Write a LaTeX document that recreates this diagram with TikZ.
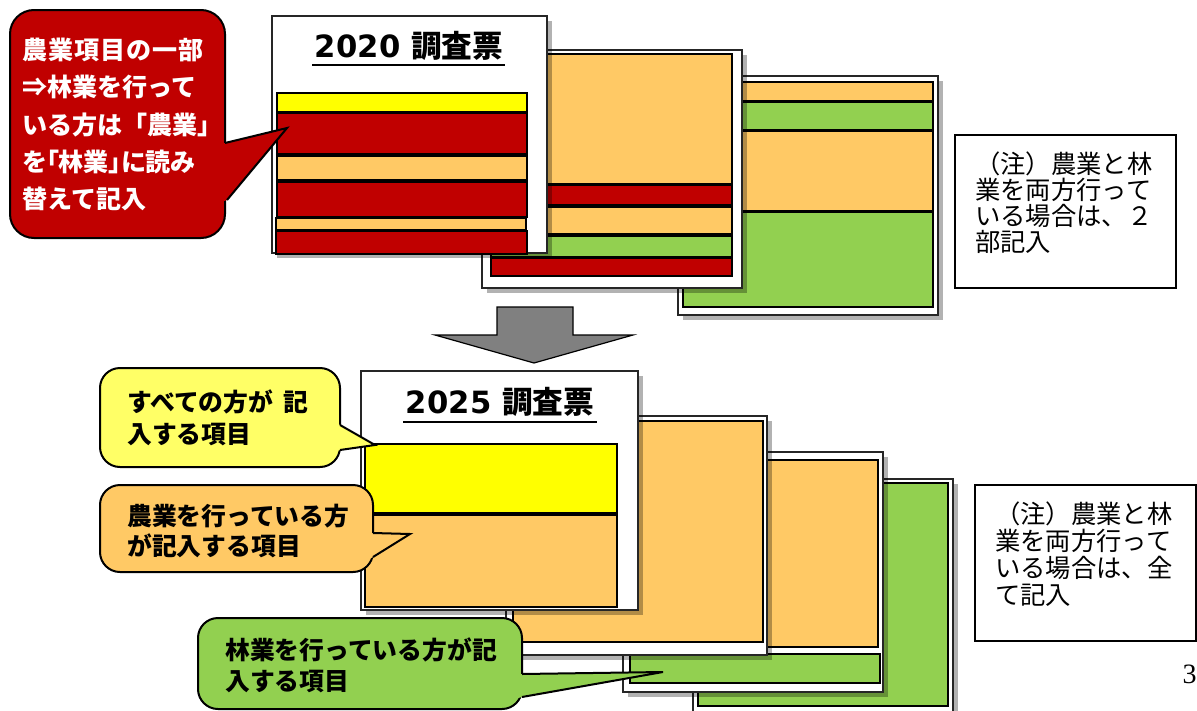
\documentclass[tikz,border=0pt]{standalone}
\usepackage{fontspec}
\setmainfont{Liberation Serif}
\newfontfamily\jp{Noto Sans CJK JP}
\newfontfamily\jpp[RawFeature=+palt]{Noto Sans CJK JP}
\newfontfamily\dv{DejaVu Sans}
\usetikzlibrary{shadows}
\definecolor{cred}{HTML}{C00000}
\definecolor{corange}{HTML}{FFC965}
\definecolor{cyellow}{HTML}{FFFF00}
\definecolor{clyellow}{HTML}{FFFF66}
\definecolor{cgreen}{HTML}{92D050}
\definecolor{cgray}{HTML}{808080}
\tikzset{
  card/.style={draw=black!85, line width=1.1pt, fill=white,
    drop shadow={shadow xshift=4pt, shadow yshift=-4pt, opacity=0.3, fill=black}},
  band/.style={draw=black, line width=1.6pt},
  cbox/.style={draw=black, line width=1.5pt},
  cedge/.style={draw=black, line width=1.5pt, line join=miter},
  ctext/.style={anchor=base west, inner sep=0pt, font=\jp\bfseries\fontsize{18.6pt}{18.6pt}\selectfont},
  rtext/.style={anchor=base west, inner sep=0pt, text=white, font=\jp\bfseries\fontsize{18.8pt}{18.8pt}\selectfont},
  ntext/.style={anchor=base west, inner sep=0pt, font=\jp\fontsize{19pt}{19pt}\selectfont},
  ttext/.style={anchor=base, inner sep=0pt, font=\jp\bfseries\fontsize{23pt}{23pt}\selectfont},
  note/.style={draw=black, line width=1.1pt, fill=white},
  uline/.style={draw=black, line width=1.6pt},
}
\begin{document}
\begin{tikzpicture}[x=0.75pt,y=-0.75pt]
\useasboundingbox (0,0) rectangle (1197,711);
\fill[white] (0,0) rectangle (1197,711);

% ===== top stack =====
% card 3 (back)
\path[card] (678,76) rectangle (938,315);
\path[band,fill=corange] (683,82) rectangle (933,101);
\path[band,fill=cgreen] (683,102) rectangle (933,130);
\path[band,fill=corange] (683,131) rectangle (933,211);
\path[band,fill=cgreen] (683,212) rectangle (933,307);
% card 2
\path[card] (482,50) rectangle (742,288);
\path[band,fill=corange] (491,54) rectangle (732,184);
\path[band,fill=cred] (491,185) rectangle (732,205);
\path[band,fill=corange] (491,207) rectangle (732,234);
\path[band,fill=cgreen] (491,236) rectangle (732,257);
\path[band,fill=cred] (491,258) rectangle (732,276);
% card 1 (front)
\path[card] (272,16) rectangle (547,253);
\path[band,fill=cyellow] (277,93) rectangle (527,112);
\path[band,fill=cred] (277,113) rectangle (527,154);
\path[band,fill=corange] (277,156) rectangle (527,180);
\path[band,fill=cred] (277,182) rectangle (527,217);
\path[band,fill=corange] (276,218) rectangle (526,230);
\path[band,fill=cred] (276,231) rectangle (527,254);
\node[ttext] (t2020) at (409,57) {{\dv\bfseries 2020 }調査票};
\draw[uline] (312,65) -- (505,65);

% red callout
\path[cbox,fill=cred,rounded corners=18pt] (10,10) rectangle (225,238);
\fill[cred] (221,144) -- (225,143) -- (287,128) -- (227,200) -- (221,202) -- cycle;
\draw[cedge] (225,143) -- (287,128) -- (227,200);
\node[rtext] (r1) at (22,59) {\addfontfeature{LetterSpace=4}農業項目の一部};
\node[rtext] (r2) at (22,96) {⇒林業を行って};
\node[rtext] (r3) at (22,134) {いる方は「農業」};
\node[rtext,font=\jpp\bfseries\fontsize{18.8pt}{18.8pt}\selectfont] (r4) at (22,171) {を「林業」に読み};
\node[rtext] (r5) at (22,208) {替えて記入};

% note 1
\path[note] (955,135) rectangle (1176,288);
\node[ntext] (n11) at (975,173) {（注）農業と林};
\node[ntext] (n12) at (975,199) {業を両方行って};
\node[ntext] (n13) at (975,225) {いる場合は、２};
\node[ntext] (n14) at (975,251) {部記入};

% gray arrow
\draw[fill=cgray, draw=black, line width=0.9pt, line join=miter]
  (497,307) -- (573,307) -- (573,335) -- (633,335) -- (534,363) -- (435,335) -- (497,335) -- cycle;

% ===== bottom stack =====
% card B4 (back)
\path[card] (693,479) rectangle (953,720);
\path[band,fill=cgreen] (698,483) rectangle (948,706);
% card B3
\path[card] (623,452) rectangle (883,692);
\path[band,fill=corange] (628,460) rectangle (878,647);
\path[band,fill=cgreen] (630,654) rectangle (880,683);
% card B2
\path[card] (506,416) rectangle (767,655);
\path[band,fill=corange] (513,421) rectangle (763,642);
% card B1 (front)
\path[card] (361,371) rectangle (638,610);
\path[band,fill=cyellow] (365,444) rectangle (617,513);
\path[band,fill=corange] (365,515) rectangle (617,607);
\node[ttext] (t2025) at (500,413) {{\dv\bfseries 2025 }調査票};
\draw[uline] (403,422) -- (597,422);

% note 2
\path[note] (975,485) rectangle (1196,641);
\node[ntext] (n21) at (995,523) {（注）農業と林};
\node[ntext] (n22) at (995,550) {業を両方行って};
\node[ntext] (n23) at (995,577) {いる場合は、全};
\node[ntext] (n24) at (995,604) {て記入};

% yellow callout
\path[cbox,fill=clyellow,rounded corners=15pt] (100,368) rectangle (340,467);
\fill[clyellow] (336,423) -- (340,425) -- (375,445) -- (340,450) -- (336,451) -- cycle;
\draw[cedge] (340,425) -- (375,445) -- (340,450);
\node[ctext] (y1) at (127,411) {すべての方が\hspace{0.4em}記};
\node[ctext] (y2) at (127,443) {入する項目};

% orange callout
\path[cbox,fill=corange,rounded corners=15pt] (100,485) rectangle (373,572);
\fill[corange] (369,533) -- (373,533) -- (410,534) -- (373,557) -- (369,559) -- cycle;
\draw[cedge] (373,533) -- (410,534) -- (373,557);
\node[ctext] (o1) at (127,525) {農業を行っている方};
\node[ctext] (o2) at (127,555) {が記入する項目};

% green callout
\path[cbox,fill=cgreen,rounded corners=15pt] (198,618) rectangle (522,709);
\fill[cgreen] (518,674) -- (522,674) -- (663,672) -- (522,697) -- (518,698) -- cycle;
\draw[cedge] (522,674) -- (663,672) -- (522,697);
\node[ctext] (g1) at (225,659) {林業を行っている方が記};
\node[ctext] (g2) at (225,690) {入する項目};

% page number
\node[anchor=base east, inner sep=0pt, font=\fontsize{21pt}{21pt}\selectfont] (pg) at (1197,683) {3};
\end{tikzpicture}
\end{document}
